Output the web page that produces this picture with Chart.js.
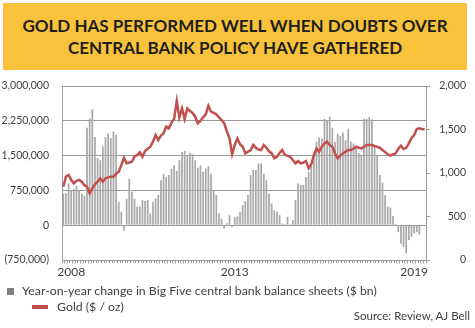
<!DOCTYPE html>
<html>
<head>
<meta charset="utf-8">
<script src="https://cdn.jsdelivr.net/npm/chart.js@4/dist/chart.umd.min.js"></script>
<style>
  html, body { margin: 0; padding: 0; background: #fff; }
  body { width: 475px; height: 328px; position: relative; overflow: hidden; font-family: Lato, "Open Sans", sans-serif; }
  #banner {
    position: absolute; left: 3px; top: 3px; width: 464px; height: 67px;
    background: #f8c23a; display: flex; align-items: center; justify-content: center;
    text-align: center; font-weight: bold; font-size: 17px; line-height: 22px; color: #1e1e1e;
  }
  #chart { position: absolute; left: 0; top: 0; }
  .leg { position: absolute; left: 0; font-size: 12.3px; color: #404040; white-space: nowrap; }
  .sq { position: absolute; left: 7px; top: 288px; width: 7px; height: 7px; background: #7f7f7f; }
  .ln { position: absolute; left: 32px; top: 305px; width: 16px; height: 4px; background: #c0504d; }
  #source { position: absolute; right: 5px; top: 309px; font-size: 11.5px; color: #404040; }
</style>
</head>
<body>
<canvas id="chart" width="475" height="328"></canvas>
<div id="banner">GOLD HAS PERFORMED WELL WHEN DOUBTS OVER<br>CENTRAL BANK POLICY HAVE GATHERED</div>
<div class="sq"></div>
<div class="leg" style="left:22px; top:283px;">Year-on-year change in Big Five central bank balance sheets ($ bn)</div>
<div class="ln"></div>
<div class="leg" style="left:57px; top:299px;">Gold ($ / oz)</div>
<div id="source">Source: Review, AJ Bell</div>

<script>
// monthly, Jan 2008 onwards
var startYear = 2008;
var monthCount = 138;

// x axis labels shown only at these category positions
var yearTicks = ['2008', '2013', '2019'];
var yearTickIndex = [3, 65, 133];

// year-on-year change in big five central bank balance sheets
var balanceSheetChange = [
    680000, 690000, 900000, 760000, 780000, 850000, 760000, 680000, 640000, 2100000,
    2300000, 2500000, 1900000, 1450000, 1400000, 1700000, 1900000, 1980000, 1880000, 2020000,
    1950000, 500000, 290000, -120000, 570000, 1000000, 720000, 570000, 400000, 400000,
    540000, 520000, 540000, 250000, 500000, 575000, 650000, 970000, 1110000, 1040000,
    1080000, 1220000, 1290000, 1170000, 1400000, 1580000, 1600000, 1500000, 1560000, 1530000,
    1400000, 1240000, 1290000, 1150000, 1220000, 1270000, 1110000, 750000, 650000, 250000,
    140000, -70000, 40000, 215000, -40000, 180000, 190000, 290000, 430000, 520000,
    650000, 1080000, 1190000, 1190000, 1330000, 1330000, 1110000, 970000, 680000, 470000,
    320000, 290000, 215000, 36000, 20000, 180000, 20000, 110000, 540000, 900000,
    870000, 870000, 1040000, 1150000, 1300000, 1540000, 1800000, 1890000, 1870000, 2290000,
    2260000, 2340000, 2100000, 1800000, 1970000, 1920000, 2000000, 1830000, 2080000, 1800000,
    1760000, 1700000, 1560000, 1520000, 2300000, 2290000, 2330000, 2280000, 1700000, 1500000,
    1080000, 920000, 650000, 400000, 380000, 200000, 30000, -150000, -400000, -470000,
    -610000, -320000, -250000, -180000, -150000, -200000, null, null
];

// gold price, $ / oz
var goldPrice = [
    842, 960, 977, 920, 881, 910, 920, 900, 860, 842,
    766, 824, 870, 900, 939, 900, 939, 950, 958, 958,
    990, 1015, 1092, 1176, 1111, 1120, 1130, 1187, 1207, 1238,
    1187, 1253, 1280, 1302, 1360, 1437, 1379, 1430, 1456, 1532,
    1513, 1580, 1620, 1827, 1640, 1743, 1620, 1743, 1713, 1690,
    1647, 1571, 1600, 1640, 1675, 1773, 1705, 1690, 1675, 1640,
    1609, 1571, 1480, 1398, 1215, 1322, 1398, 1330, 1302, 1226,
    1245, 1260, 1322, 1291, 1270, 1264, 1322, 1291, 1250, 1226,
    1169, 1187, 1230, 1264, 1207, 1200, 1187, 1150, 1111, 1138,
    1111, 1120, 1138, 1054, 1100, 1207, 1283, 1245, 1302, 1340,
    1360, 1322, 1302, 1226, 1169, 1200, 1226, 1245, 1264, 1264,
    1280, 1302, 1290, 1283, 1300, 1322, 1322, 1322, 1310, 1302,
    1290, 1264, 1240, 1215, 1199, 1215, 1226, 1280, 1314, 1276,
    1290, 1341, 1400, 1437, 1506, 1513, 1506, 1500
];

var months = [];
for (var i = 0; i < monthCount; i++) {
    var y = startYear + Math.floor(i / 12);
    var m = (i % 12) + 1;
    months.push(y + '-' + (m < 10 ? '0' + m : m));
}

var axisGrey = '#9a9a9a';
var textGrey = '#404040';
var tickFont = { family: 'Lato', size: 10.5 };

function leftLabel(v) {
    var s = Math.abs(v).toLocaleString('en-US');
    return v < 0 ? '(' + s + ')' : s;
}

var ctx = document.getElementById('chart').getContext('2d');
var chart = new Chart(ctx, {
    type: 'bar',
    data: {
        labels: months,
        datasets: [{
            type: 'line',
            label: 'Gold ($ / oz)',
            data: goldPrice,
            yAxisID: 'y2',
            borderColor: '#c0504d',
            borderWidth: 2.5,
            pointRadius: 0,
            tension: 0,
            order: 0
        }, {
            label: 'Year-on-year change in Big Five central bank balance sheets ($ bn)',
            data: balanceSheetChange,
            yAxisID: 'y',
            backgroundColor: '#a8a8a8',
            categoryPercentage: 1,
            barPercentage: 0.65,
            order: 1
        }]
    },
    options: {
        responsive: false,
        animation: false,
        layout: { padding: { top: 86, right: 9, bottom: 0, left: 0 } },
        scales: {
            x: {
                grid: { display: true, drawOnChartArea: false, drawTicks: true, tickLength: 3, color: axisGrey },
                border: { display: true, color: axisGrey },
                ticks: {
                    autoSkip: false,
                    maxRotation: 0,
                    padding: 2,
                    color: textGrey,
                    font: { family: 'Lato', size: 12 },
                    callback: function (v, i) {
                        var k = yearTickIndex.indexOf(i);
                        return k >= 0 ? yearTicks[k] : '';
                    }
                },
                afterFit: function (s) { s.height = 68; }
            },
            y: {
                position: 'left',
                min: -750000,
                max: 3000000,
                ticks: { stepSize: 750000, padding: 13, color: textGrey, font: tickFont, callback: leftLabel },
                grid: { color: axisGrey, drawTicks: false },
                border: { display: true, color: axisGrey },
                afterFit: function (s) { s.width = 62; }
            },
            y2: {
                position: 'right',
                min: 0,
                max: 2000,
                ticks: { stepSize: 500, crossAlign: 'far', color: textGrey, font: tickFont,
                    callback: function (v) { return v.toLocaleString('en-US'); } },
                grid: { drawOnChartArea: false, drawTicks: true, tickLength: 4, color: axisGrey },
                border: { display: true, color: axisGrey },
                afterFit: function (s) { s.width = 40; }
            }
        },
        plugins: {
            legend: { display: false },
            tooltip: { enabled: false }
        }
    }
});
</script>
</body>
</html>
